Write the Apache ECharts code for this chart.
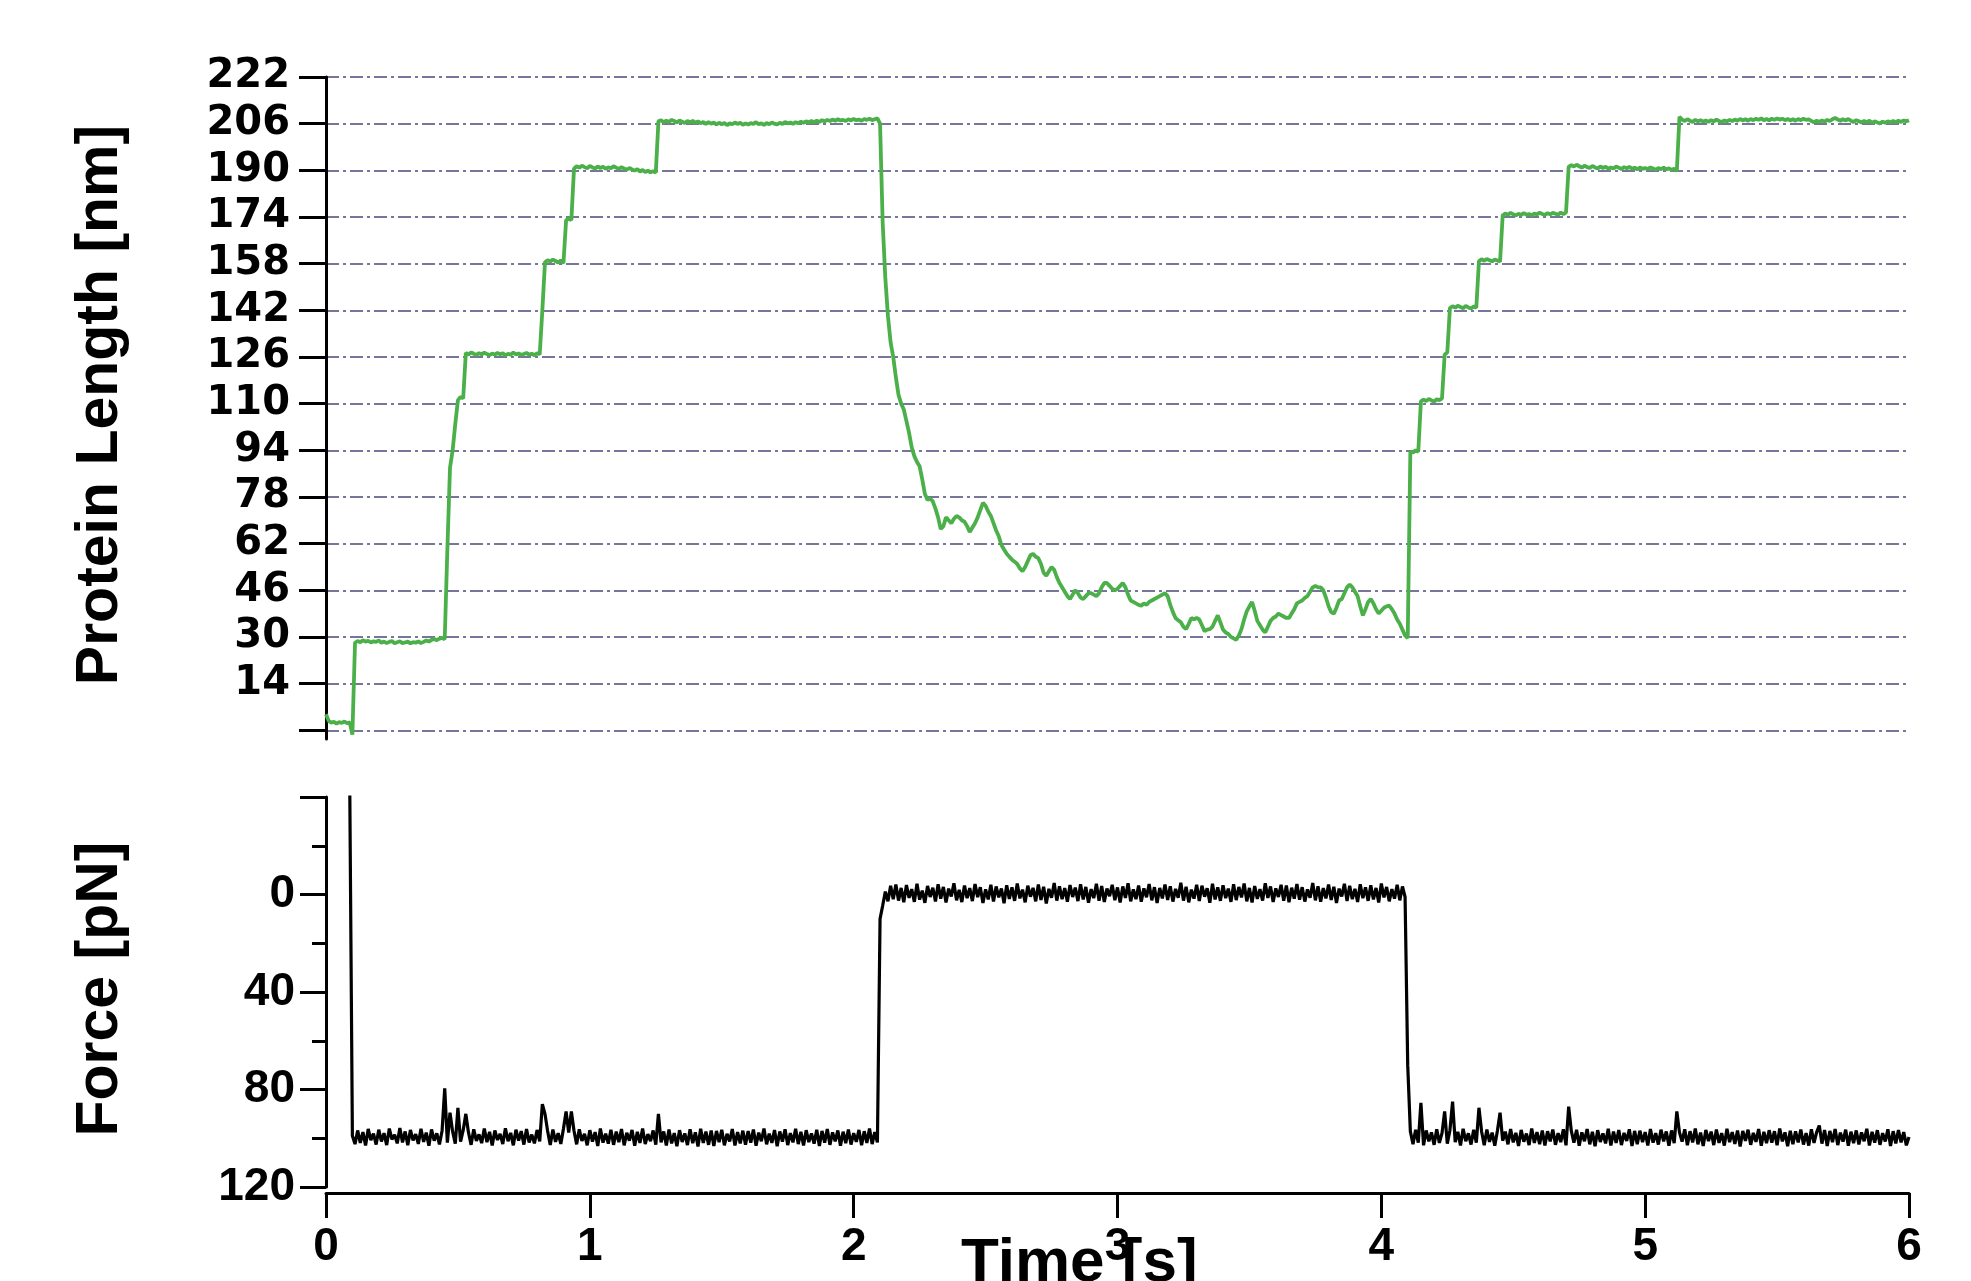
<!DOCTYPE html>
<html>
<head>
<meta charset="utf-8">
<title>Protein length and force vs time</title>
<script src="https://cdn.jsdelivr.net/npm/echarts@6/dist/echarts.min.js"></script>
<style>
  html, body { margin: 0; padding: 0; background: #fff; }
  #chart { width: 1971px; height: 1281px; }
</style>
</head>
<body>
<div id="chart"></div>
<script>
// both traces are sampled every 10 ms, starting at t = 0 s
var sampleStep = 0.01;

// protein length [nm]
var lengthValues = [
  3.5, 1.2, 0.6, 0.9, 0.3, 0.8, 0.5, 1.0, 0.4, 0.7,
  -3.5, 28.0, 28.6, 28.2, 28.9, 28.4, 28.7, 28.1, 28.5, 28.3,
  28.8, 28.0, 28.4, 27.9, 28.3, 28.6, 27.8, 28.2, 28.5, 27.9,
  28.1, 28.4, 27.8, 28.2, 28.0, 28.5, 27.9, 28.3, 28.8, 28.4,
  29.0, 29.3, 28.9, 29.4, 29.7, 29.2, 60, 88, 94, 103,
  111.2, 112.3, 111.8, 127.4, 126.8, 127.6, 127.1, 126.7, 127.3, 126.9,
  127.5, 127.0, 126.6, 127.2, 126.8, 127.4, 126.9, 127.3, 126.5, 127.1,
  126.8, 127.5, 126.9, 127.2, 126.7, 127.0, 127.4, 126.8, 127.1, 126.6,
  127.3, 126.9, 142.0, 158.5, 159.2, 158.7, 159.4, 158.9, 158.4, 159.1,
  158.2, 172.8, 173.6, 172.9, 190.6, 191.4, 190.9, 191.6, 191.1, 190.7,
  191.5, 191.0, 190.6, 191.3, 190.8, 191.2, 190.5, 191.0, 190.7, 191.4,
  190.9, 190.4, 191.1, 190.6, 190.2, 190.8, 190.3, 189.9, 190.4, 189.6,
  190.1, 189.4, 189.9, 189.3, 189.7, 189.2, 206.8, 207.2, 206.5, 207.0,
  206.6, 207.3, 206.9, 206.4, 207.1, 206.7, 206.2, 206.9, 206.4, 207.0,
  206.3, 206.8, 206.1, 206.6, 205.9, 206.5, 206.0, 206.4, 205.7, 206.3,
  205.8, 206.2, 205.5, 206.1, 205.8, 206.4, 205.9, 206.3, 205.6, 206.1,
  205.7, 206.2, 205.9, 206.5, 205.8, 206.1, 205.6, 206.2, 205.8, 206.4,
  206.0, 205.7, 206.3, 205.9, 206.6, 206.1, 206.4, 205.9, 206.5, 206.2,
  206.7, 206.3, 206.8, 206.4, 206.9, 206.5, 207.0, 206.6, 207.2, 206.8,
  207.3, 206.9, 207.4, 207.0, 207.5, 207.1, 207.3, 206.9, 207.5, 207.1,
  207.6, 207.2, 207.4, 207.0, 207.6, 207.3, 207.7, 207.2, 207.5, 207.8,
  206, 172, 153, 140, 131, 126, 119, 113, 110, 108,
  104, 100, 95, 92, 90, 88.5, 84, 79, 77, 77.5,
  76.5, 74, 71, 67, 68, 71, 70, 69, 70.5, 71.5,
  71, 70, 69.5, 68, 66, 67.5, 69, 71, 73.5, 76,
  75, 73, 71.5, 69, 66.5, 64.5, 61.5, 60, 58.5, 57.5,
  56.5, 55.8, 55, 53.5, 52.5, 54, 56, 58, 58.5, 57.5,
  57, 55, 52, 51, 52.5, 54, 53, 50.5, 48.5, 47,
  45.5, 44, 43, 44.5, 46, 45, 43.5, 43, 44, 45,
  45, 44.5, 44, 45, 47, 48.5, 48.5, 47.5, 46.5, 46,
  46.5, 47.5, 48.5, 47, 44.5, 42.5, 42, 41.5, 41, 40.7,
  41.5, 41, 42, 42.5, 43, 43.5, 44, 44.5, 45, 44,
  41, 38.5, 36.5, 35.7, 35, 33.5, 32.7, 34.5, 36.5, 36,
  36.5, 36, 34, 32, 32.5, 32.7, 33.5, 35.5, 37.4, 35,
  32.5, 31.5, 31, 30, 29.5, 29, 30.5, 32.7, 36, 38.8,
  40.5, 42, 39, 35.5, 34, 32.5, 31.5, 33.5, 35.5, 36.5,
  37, 38, 37.5, 37, 36.5, 36.5, 38, 39.5, 41.5, 42,
  42.5, 43.4, 44, 45.5, 47, 47.5, 47, 47, 46, 43.5,
  40.5, 38.5, 38, 40, 42.5, 43, 45, 47, 48, 47,
  45.5, 44, 40.5, 37.4, 39.5, 42, 43, 41.5, 39.5, 38,
  39, 40, 40.5, 40.7, 39.5, 38, 36, 34.5, 32.5, 30.5,
  29.6, 93.6, 93.2, 94.0, 93.5, 110.8, 111.4, 110.9, 111.6, 111.1,
  110.7, 111.5, 111.2, 111.8, 126.8, 127.6, 142.8, 143.4, 142.9, 143.6,
  143.1, 142.7, 143.5, 143.0, 142.6, 143.3, 142.9, 158.9, 159.5, 159.0,
  159.6, 159.2, 158.8, 159.4, 159.1, 158.7, 174.6, 175.2, 174.8, 175.4,
  174.9, 174.5, 175.1, 174.7, 175.3, 174.8, 175.0, 174.6, 175.2, 174.9,
  175.5, 175.0, 174.7, 175.3, 174.9, 175.4, 175.1, 174.8, 175.5, 175.0,
  175.6, 191.2, 191.8, 191.3, 191.9, 191.4, 190.9, 191.6, 191.1, 190.8,
  191.5, 191.0, 190.6, 191.3, 190.8, 191.2, 190.5, 191.0, 190.6, 191.3,
  190.9, 190.4, 191.1, 190.7, 191.2, 190.6, 190.9, 190.3, 191.0, 190.5,
  190.8, 190.4, 191.0, 190.6, 190.2, 190.8, 190.4, 190.9, 190.3, 190.7,
  190.1, 190.6, 189.8, 208.3, 207.4, 206.9, 207.5, 207.0, 206.6, 207.3,
  206.8, 207.2, 206.7, 207.1, 206.6, 207.2, 206.8, 207.4, 206.9, 206.5,
  207.1, 206.8, 207.3, 206.9, 207.4, 207.0, 207.6, 207.1, 207.5, 207.0,
  207.6, 207.2, 207.7, 207.3, 207.8, 207.2, 207.6, 207.1, 207.7, 207.3,
  207.8, 207.4, 207.7, 207.2, 207.6, 207.1, 207.5, 207.0, 207.6, 207.2,
  207.7, 207.3, 207.5, 206.9, 206.5, 207.0, 206.6, 207.1, 206.7, 207.3,
  206.9, 207.5, 208.0, 207.4, 207.0, 207.5, 207.1, 207.6, 207.0, 206.6,
  207.2, 206.8, 206.4, 206.9, 206.5, 207.0, 206.3, 206.8, 206.4, 206.1,
  206.7, 206.3, 206.8, 206.4, 206.9, 206.5, 207.0, 206.6, 207.1, 206.8,
  207.2
];

// force [pN] (null = no signal yet, -45 runs off the top of the axis)
var forceValues = [
  null, null, null, null, null, null, null, null, null, -45,
  99.0, 102.4, 96.8, 101.9, 97.5, 103.0, 96.2, 100.8, 98.1, 102.6,
  96.5, 101.3, 97.9, 102.8, 96.0, 100.5, 98.6, 102.1, 95.8, 101.7,
  97.2, 102.9, 96.6, 100.9, 98.3, 102.3, 96.1, 101.5, 97.7, 103.1,
  96.4, 101.0, 98.0, 102.5, 96.9, 79.5, 101.8, 89.5, 97.3, 102.2,
  87.5, 101.4, 96.7, 90.0, 97.6, 102.7, 96.3, 101.1, 98.4, 102.0,
  96.0, 101.6, 97.4, 103.0, 96.8, 100.7, 98.2, 102.4, 95.9, 101.2,
  97.8, 102.9, 96.5, 101.0, 97.1, 102.6, 96.2, 101.7, 98.5, 102.1,
  96.6, 101.3, 86.0, 90.0, 97.0, 102.8, 96.4, 101.5, 97.9, 102.3,
  96.1, 89.0, 97.7, 89.0, 96.9, 102.5, 96.3, 101.1, 98.2, 102.9,
  96.7, 101.4, 97.5, 103.2, 96.0, 101.8, 98.1, 102.2, 96.5, 102.7,
  97.3, 101.6, 96.2, 102.9, 97.8, 101.0, 96.6, 103.1, 97.4, 101.9,
  96.0, 102.4, 98.3, 101.2, 96.8, 102.6, 90.0, 101.7, 97.2, 103.0,
  96.4, 102.1, 97.9, 103.3, 96.7, 101.5, 98.0, 102.8, 96.3, 102.0,
  97.6, 103.4, 96.1, 101.9, 97.3, 102.7, 96.8, 103.2, 97.0, 101.6,
  96.5, 102.9, 98.2, 101.3, 96.2, 103.0, 97.5, 102.1, 96.9, 102.6,
  97.1, 101.8, 96.4, 103.1, 97.7, 101.2, 96.0, 102.5, 98.1, 101.9,
  96.6, 103.3, 97.2, 101.4, 96.3, 102.8, 97.9, 101.7, 96.1, 102.4,
  97.4, 103.0, 96.7, 101.6, 98.0, 102.2, 96.5, 103.2, 97.0, 101.8,
  96.2, 102.7, 97.6, 101.3, 96.8, 103.1, 97.3, 102.0, 96.4, 102.6,
  97.9, 101.5, 96.6, 102.9, 97.1, 101.9, 96.0, 102.4, 97.5, 101.7,
  10.0, 4.5, -1.2, 2.8, -3.6, 1.9, -4.1, 2.5, -2.7, 3.2,
  -3.9, 1.4, -2.2, 3.0, -4.4, 2.1, -1.6, 3.4, -3.5, 1.0,
  -2.8, 2.9, -4.2, 1.7, -3.1, 3.3, -2.4, 0.8, -4.6, 2.4,
  -1.9, 3.1, -3.7, 1.5, -2.6, 2.7, -4.3, 1.1, -3.0, 3.5,
  -2.1, 2.0, -4.0, 2.9, -3.3, 1.2, -2.5, 3.6, -3.8, 1.8,
  -2.9, 2.6, -4.5, 1.6, -2.0, 3.2, -3.6, 0.9, -2.7, 2.8,
  -4.1, 2.2, -3.2, 3.7, -2.3, 1.3, -4.7, 2.5, -3.4, 1.9,
  -2.6, 3.0, -3.9, 1.0, -2.8, 2.7, -4.2, 2.0, -3.1, 3.4,
  -2.2, 1.5, -4.4, 2.6, -3.5, 3.1, -2.4, 0.7, -4.0, 2.3,
  -2.9, 3.3, -3.3, 1.4, -4.6, 2.8, -2.1, 1.9, -3.7, 3.0,
  -2.5, 1.1, -4.3, 2.4, -3.0, 3.5, -2.7, 1.6, -4.1, 2.2,
  -3.4, 2.9, -2.3, 1.3, -4.8, 2.5, -3.2, 3.2, -2.0, 1.7,
  -4.0, 2.7, -3.6, 0.9, -2.6, 3.4, -4.4, 2.0, -2.9, 2.6,
  -3.8, 1.5, -2.4, 3.0, -4.2, 2.3, -3.1, 1.2, -4.5, 2.8,
  -2.7, 3.3, -3.5, 1.8, -2.2, 2.5, -4.6, 1.4, -3.3, 3.1,
  -2.5, 1.0, -4.0, 2.6, -3.7, 3.2, -2.8, 1.7, -4.3, 2.1,
  -3.0, 2.9, -2.1, 1.3, -4.7, 2.4, -3.4, 3.0, -2.6, 1.6,
  -4.1, 2.2, -3.2, 3.5, -2.4, 0.8, -4.4, 2.7, -3.6, 1.9,
  -2.3, 3.1, -4.2, 1.5, -2.9, 2.6, -3.8, 2.0, -2.7, 3.3,
  -4.5, 1.2, -3.1, 2.8, -2.2, 1.7, -4.0, 2.4, -3.3, 1.0,
  70.0, 97.2, 102.4, 96.5, 101.8, 85.5, 102.9, 96.8, 101.3, 97.6,
  102.7, 96.3, 101.9, 97.9, 89.0, 102.2, 96.7, 85.0, 101.6, 97.4,
  103.0, 96.1, 101.2, 98.0, 102.6, 96.5, 101.8, 87.5, 97.2, 102.9,
  96.4, 101.5, 97.7, 103.1, 96.9, 89.5, 101.0, 97.3, 102.5, 96.2,
  101.7, 97.8, 103.2, 96.6, 101.4, 98.1, 102.8, 96.0, 101.9, 97.5,
  102.4, 96.8, 103.0, 97.1, 101.3, 96.4, 102.7, 97.9, 101.6, 96.3,
  102.9, 87.0, 97.0, 101.8, 96.5, 103.1, 97.6, 101.2, 96.2, 102.5,
  97.4, 103.3, 96.7, 101.5, 98.0, 102.1, 96.1, 103.0, 97.3, 101.9,
  96.6, 102.8, 97.8, 101.1, 96.3, 103.2, 97.0, 102.4, 96.9, 101.6,
  97.5, 103.0, 96.2, 101.8, 97.9, 102.6, 96.5, 101.3, 97.2, 103.1,
  96.8, 102.0, 89.0, 97.6, 101.4, 96.3, 102.9, 97.1, 101.7, 96.0,
  102.5, 97.7, 103.2, 96.6, 101.2, 97.3, 102.8, 96.4, 101.9, 97.9,
  103.0, 96.1, 101.6, 97.5, 102.3, 96.8, 103.4, 97.0, 101.1, 96.5,
  102.7, 97.8, 101.5, 96.2, 103.1, 97.4, 102.0, 96.7, 101.8, 97.1,
  102.9, 96.0, 101.3, 97.6, 103.3, 96.9, 102.4, 97.2, 101.7, 96.4,
  102.6, 97.9, 103.0, 96.3, 101.9, 97.5, 94.8, 102.2, 96.6, 103.2,
  97.0, 101.6, 96.2, 102.8, 97.7, 101.4, 96.5, 103.1, 97.3, 102.0,
  96.8, 102.5, 97.6, 101.2, 96.1, 103.0, 97.4, 101.8, 96.7, 102.7,
  97.9, 101.3, 96.3, 103.2, 97.1, 102.1, 96.6, 101.7, 97.5, 102.9,
  99.5
];

// axis ticks
var lengthTicks = [-2, 14, 30, 46, 62, 78, 94, 110, 126, 142, 158, 174, 190, 206, 222];
var lengthLabels = [14, 30, 46, 62, 78, 94, 110, 126, 142, 158, 174, 190, 206, 222];

function toPairs(values) {
  return values.map(function (v, i) {
    return [+(i * sampleStep).toFixed(2), v];
  });
}

var axisStroke = { color: '#000', width: 3 };
var chart = echarts.init(document.getElementById('chart'));

var option = {
  animation: false,
  backgroundColor: '#fff',
  grid: [
    { left: 326, right: 62, top: 77, height: 662 },
    { left: 326, right: 62, top: 797, height: 390 }
  ],
  xAxis: [
    { gridIndex: 0, type: 'value', min: 0, max: 6, show: false },
    {
      gridIndex: 1, type: 'value', min: 0, max: 6, interval: 1, offset: 6,
      axisLine: { onZero: false, lineStyle: axisStroke },
      axisTick: { length: 25, lineStyle: axisStroke },
      axisLabel: {
        margin: 31, color: '#000',
        fontFamily: 'Liberation Sans', fontWeight: 'bold', fontSize: 46
      },
      splitLine: { show: false }
    }
  ],
  yAxis: [
    {
      gridIndex: 0, type: 'value', min: -5, max: 222,
      axisLine: { show: true, onZero: false, lineStyle: axisStroke },
      axisTick: { show: true, customValues: lengthTicks, length: 27, lineStyle: axisStroke },
      axisLabel: {
        customValues: lengthLabels, margin: 36, color: '#000',
        fontFamily: 'DejaVu Sans', fontWeight: 'bold', fontSize: 40
      },
      splitLine: {
        show: true,
        lineStyle: { color: '#4a4a7e', width: 1.6, type: [13, 4, 3, 4] }
      }
    },
    {
      gridIndex: 1, type: 'value', inverse: true, min: -40, max: 120, interval: 40,
      axisLine: { show: true, onZero: false, lineStyle: axisStroke },
      axisTick: { show: true, length: 26, lineStyle: axisStroke },
      minorTick: { show: true, splitNumber: 2, length: 14, lineStyle: axisStroke },
      axisLabel: {
        margin: 31, color: '#000',
        fontFamily: 'Liberation Sans', fontWeight: 'bold', fontSize: 46,
        formatter: function (v) { return v === -40 ? '' : String(v); }
      },
      splitLine: { show: false }
    }
  ],
  series: [
    {
      name: 'Protein Length', type: 'line', xAxisIndex: 0, yAxisIndex: 0,
      data: toPairs(lengthValues), showSymbol: false,
      lineStyle: { color: '#4cb04a', width: 3.8 }, itemStyle: { color: '#4cb04a' }
    },
    {
      name: 'Force', type: 'line', xAxisIndex: 1, yAxisIndex: 1,
      data: toPairs(forceValues), showSymbol: false, connectNulls: false,
      lineStyle: { color: '#000', width: 3.2 }, itemStyle: { color: '#000' }
    }
  ],
  graphic: [
    {
      type: 'text', x: 101, y: 405, rotation: Math.PI / 2,
      style: {
        text: 'Protein Length [nm]', fill: '#000',
        fontFamily: 'Liberation Sans', fontWeight: 'bold', fontSize: 59,
        align: 'center', verticalAlign: 'middle'
      }
    },
    {
      type: 'text', x: 101, y: 989, rotation: Math.PI / 2,
      style: {
        text: 'Force [pN]', fill: '#000',
        fontFamily: 'Liberation Sans', fontWeight: 'bold', fontSize: 59,
        align: 'center', verticalAlign: 'middle'
      }
    },
    {
      type: 'text', x: 961, y: 1264,
      style: {
        text: 'Time [s]', fill: '#000',
        fontFamily: 'Liberation Sans', fontWeight: 'bold', fontSize: 62,
        align: 'left', verticalAlign: 'middle'
      }
    }
  ]
};

chart.setOption(option);
</script>
</body>
</html>
